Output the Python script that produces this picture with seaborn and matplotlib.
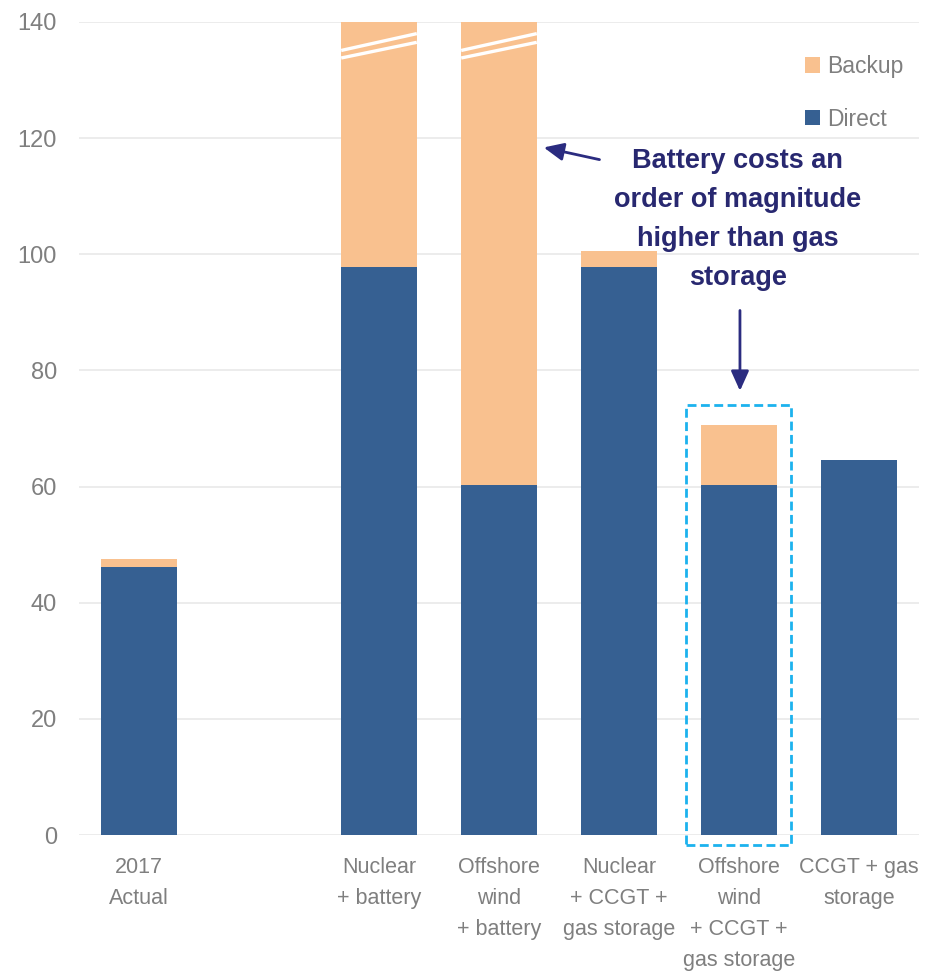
import numpy as np
import pandas as pd
import matplotlib
matplotlib.use("Agg")
import matplotlib.pyplot as plt
from matplotlib.patches import Patch, Rectangle
import seaborn as sns

# Cost per scenario, split into direct and backup components
categories = [
    "2017\nActual",
    "",
    "Nuclear\n+ battery",
    "Offshore\nwind\n+ battery",
    "Nuclear\n+ CCGT +\ngas storage",
    "Offshore\nwind\n+ CCGT +\ngas storage",
    "CCGT + gas\nstorage",
]
direct = [46.2, np.nan, 97.8, 60.3, 97.8, 60.3, 64.6]
backup = [1.3, np.nan, 300.0, 420.0, 2.8, 10.3, 0.0]
y_ticks = [0, 20, 40, 60, 80, 100, 120, 140]

DIRECT_COLOR = "#366092"
BACKUP_COLOR = "#F9C18F"
TEXT_GRAY = "#7F7F7F"
NAVY = "#282870"

sns.set_theme(style="white")
plt.rcParams["font.family"] = ["Liberation Sans", "DejaVu Sans"]

df = pd.DataFrame({"category": categories, "direct": direct, "backup": backup})
df["total"] = df["direct"] + df["backup"]

fig = plt.figure(figsize=(9.36, 9.74), dpi=100)
ax = fig.add_axes([79 / 936, 1 - 835 / 974, 840 / 936, 813 / 974])

# stacked bars: full height in backup colour, direct part drawn over it
bar_kw = dict(order=categories, width=0.63, errorbar=None, saturation=1,
              linewidth=0, edgecolor="none", ax=ax, zorder=3)
sns.barplot(data=df, x="category", y="total", color=BACKUP_COLOR, **bar_kw)
sns.barplot(data=df, x="category", y="direct", color=DIRECT_COLOR, **bar_kw)

ax.set_xlim(-0.5, 6.5)
ax.set_ylim(0, 140)
ax.set_yticks(y_ticks)
ax.set_xlabel("")
ax.set_ylabel("")
for s in ax.spines.values():
    s.set_visible(False)
ax.grid(axis="y", color="#EBEBEB", linewidth=1.3, zorder=0)
ax.grid(axis="x", visible=False)
ax.tick_params(axis="y", length=0, pad=16, labelsize=17, labelcolor=TEXT_GRAY)
ax.tick_params(axis="x", length=0, pad=16, labelsize=15.5, labelcolor=TEXT_GRAY)
for lbl in ax.get_xticklabels():
    lbl.set_linespacing(1.62)
    lbl.set_va("top")

# axis-break marks on the truncated battery bars
for xc in (2, 3):
    for y0, y1 in ((135.1, 138.0), (133.8, 136.5)):
        ax.plot([xc - 0.315, xc + 0.315], [y0, y1], color="white", lw=2.4,
                solid_capstyle="butt", zorder=4)

# legend
handles = [Patch(facecolor=BACKUP_COLOR, edgecolor="none", label="Backup"),
           Patch(facecolor=DIRECT_COLOR, edgecolor="none", label="Direct")]
leg = fig.legend(handles=handles, loc="upper left", bbox_to_anchor=(805 / 936, 1 - 55 / 974),
                 frameon=False, fontsize=16.5, handlelength=0.65, handleheight=0.65,
                 handletextpad=0.3, labelspacing=1.3, borderpad=0, borderaxespad=0)
for t in leg.get_texts():
    t.set_color(TEXT_GRAY)

# callout
ax.text(4.99, 106.0, "Battery costs an\norder of magnitude\nhigher than gas\nstorage",
        ha="center", va="center", fontsize=19.5, fontweight="bold", color=NAVY,
        linespacing=1.65, zorder=5)
ax.annotate("", xy=(3.35, 118.5), xytext=(3.86, 116.2),
            arrowprops=dict(arrowstyle="-|>,head_length=1.0,head_width=0.45",
                            color="#2B2C80", lw=2), zorder=5)
ax.annotate("", xy=(5.008, 76.0), xytext=(5.008, 90.8),
            arrowprops=dict(arrowstyle="-|>,head_length=1.0,head_width=0.45",
                            color="#2B2C80", lw=2), zorder=5)

# highlight box around the offshore wind + CCGT scenario
ax.add_patch(Rectangle((4.558, -1.75), 0.875, 75.8, fill=False, edgecolor="#1CB2EE",
                       linewidth=2, linestyle=(0, (3.2, 1.6)), clip_on=False, zorder=6))

fig.savefig("out.png", dpi=100)
